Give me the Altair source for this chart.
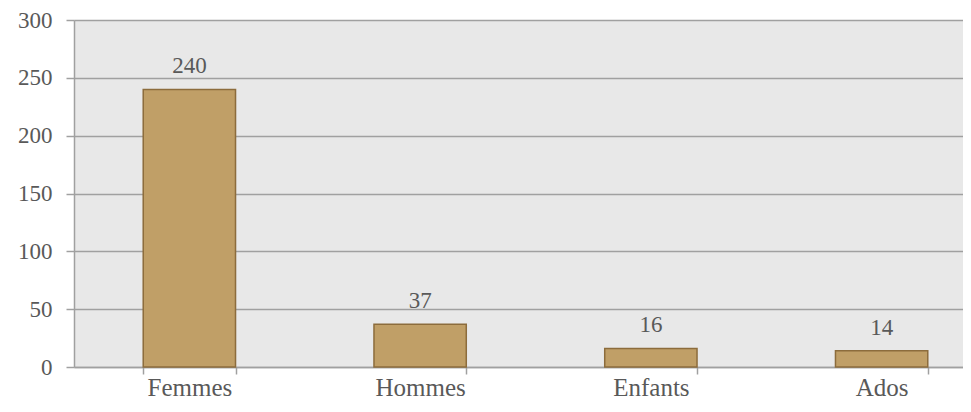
import altair as alt
import pandas as pd

categories = ["Femmes", "Hommes", "Enfants", "Ados"]
values = [240, 37, 16, 14]
y_ticks = [0, 50, 100, 150, 200, 250, 300]

df = pd.DataFrame({"cat": categories, "val": values})

FONT = "Liberation Serif"
TXT = "#595959"

x_enc = alt.X(
    "cat:N",
    sort=categories,
    title=None,
    scale=alt.Scale(range=[0, 923], paddingInner=0.6, paddingOuter=0.3),
    axis=alt.Axis(
        labelAngle=0,
        tickBand="extent",
        tickSize=7,
        labelPadding=21,
        labelBaseline="alphabetic",
        labelFontSize=25,
        grid=False,
    ),
)
y_enc = alt.Y(
    "val:Q",
    title=None,
    scale=alt.Scale(domain=[0, 300]),
    axis=alt.Axis(values=y_ticks, tickSize=8, labelPadding=14, labelFontSize=23, grid=True),
)

bars = alt.Chart(df).mark_bar(
    color="#c09f67", stroke="#8c6c3c", strokeWidth=1.5
).encode(x=x_enc, y=y_enc)

labels = alt.Chart(df).mark_text(
    baseline="alphabetic", dy=-16, fontSize=23, color=TXT, font=FONT
).encode(x=alt.X("cat:N", sort=categories), y="val:Q", text="val:Q")

chart = (
    (bars + labels)
    .properties(
        width=889,
        height=347,
        autosize="none",
        padding={"left": 66, "top": 12, "right": 0, "bottom": 35},
    )
    .configure_view(fill="#e8e8e8", stroke=None)
    .configure_axis(
        domainColor="#a0a0a0",
        domainWidth=1.5,
        tickColor="#a0a0a0",
        tickWidth=1.5,
        gridColor="#a0a0a0",
        gridWidth=1.5,
        labelColor=TXT,
        labelFont=FONT,
    )
)

chart.save("out.html", embed_options={"renderer": "svg", "actions": False})
